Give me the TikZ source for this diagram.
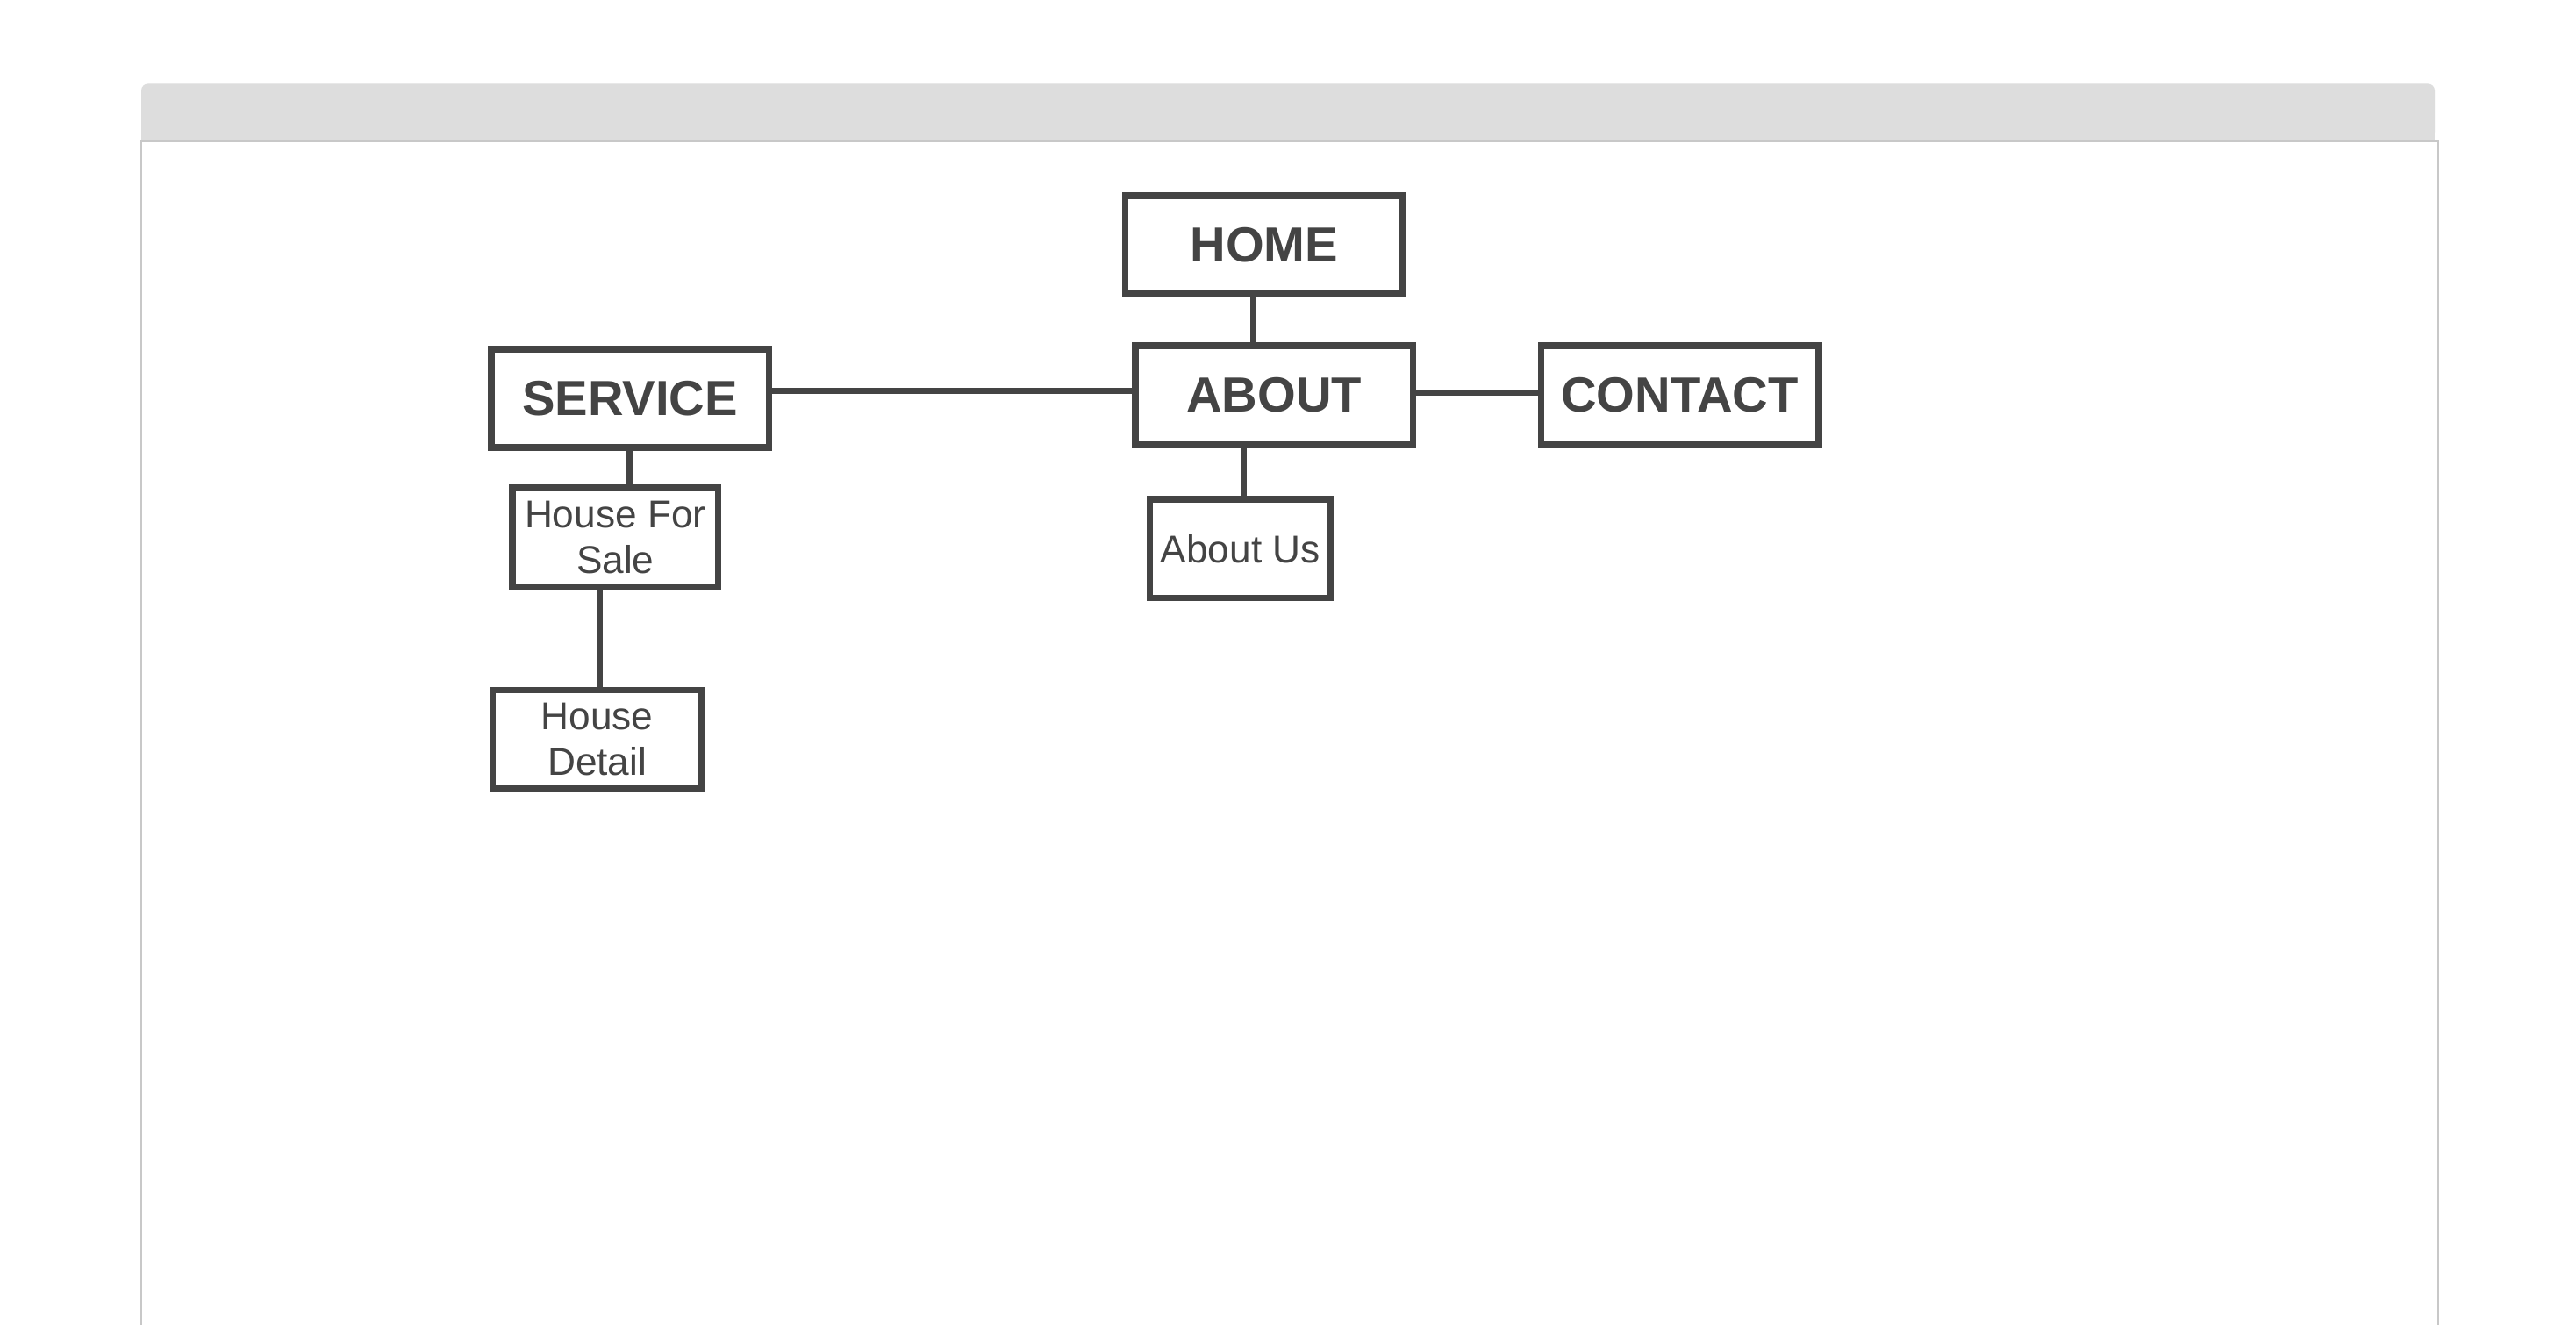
\documentclass[tikz,border=0pt]{standalone}
\usepackage{fontspec}
\setmainfont{Liberation Sans}
\usepackage{tikz}
\definecolor{boxgray}{HTML}{444444}
\definecolor{bargray}{HTML}{DDDDDD}
\definecolor{framegray}{HTML}{C8C8C8}

\begin{document}
\begin{tikzpicture}[x=0.5pt, y=-0.5pt,
				mainnode/.style={rectangle, draw=boxgray, fill=white, line width=2pt, text=boxgray, minimum width=84.5pt, minimum height=30pt, inner sep=1pt, font=\fontsize{15}{17}\selectfont\bfseries},
				subnode/.style={rectangle, draw=boxgray, fill=white, line width=2pt, text=boxgray, minimum height=30pt, inner sep=1pt, align=center, font=\fontsize{11.8}{14}\selectfont},
				link/.style={draw=boxgray, line width=2pt},
				]
				\useasboundingbox (0,0) rectangle (1568,806);
				\fill[white] (0,0) rectangle (1568,806);

				%Page frame
				\fill[bargray, rounded corners=2pt] (86,51) rectangle (1482,85);
				\fill[bargray] (86,75) rectangle (1482,85);
				\draw[framegray, line width=0.5pt] (86,808) -- (86,86) -- (1484,86) -- (1484,808);

					%Nodes
				\node[mainnode]		(home)		at (769.5,149)		{HOME};
				\node[mainnode]		(about)		at (775.5,240.5)	{ABOUT};
				\node[mainnode]		(service)	at (383.5,242.5)	{SERVICE};
				\node[mainnode]		(contact)	at (1022.5,240.5)	{CONTACT};
				\node[subnode, minimum width=62.5pt]	(housesale)		at (374.5,327)	{House For\\Sale};
				\node[subnode, minimum width=55pt]		(aboutus)		at (755,334)	{About Us};
				\node[subnode, minimum width=63.5pt]	(housedetail)	at (363.5,450)	{House\\Detail};

				%Lines
				\draw[link]	([xshift=-3.25pt]home.south) -- ([xshift=-3.25pt]home.south |- about.north);
				\draw[link]	([yshift=2.25pt]service.east) -- ([yshift=2.25pt]service.east -| about.west);
				\draw[link]	([yshift=0.75pt]about.east) -- ([yshift=0.75pt]about.east -| contact.west);
				\draw[link]	(service.south) -- (service.south |- housesale.north);
				\draw[link]	([xshift=-4.75pt]housesale.south) -- ([xshift=-4.75pt]housesale.south |- housedetail.north);
				\draw[link]	([xshift=-9.25pt]about.south) -- ([xshift=-9.25pt]about.south |- aboutus.north);
			\end{tikzpicture}
\end{document}
